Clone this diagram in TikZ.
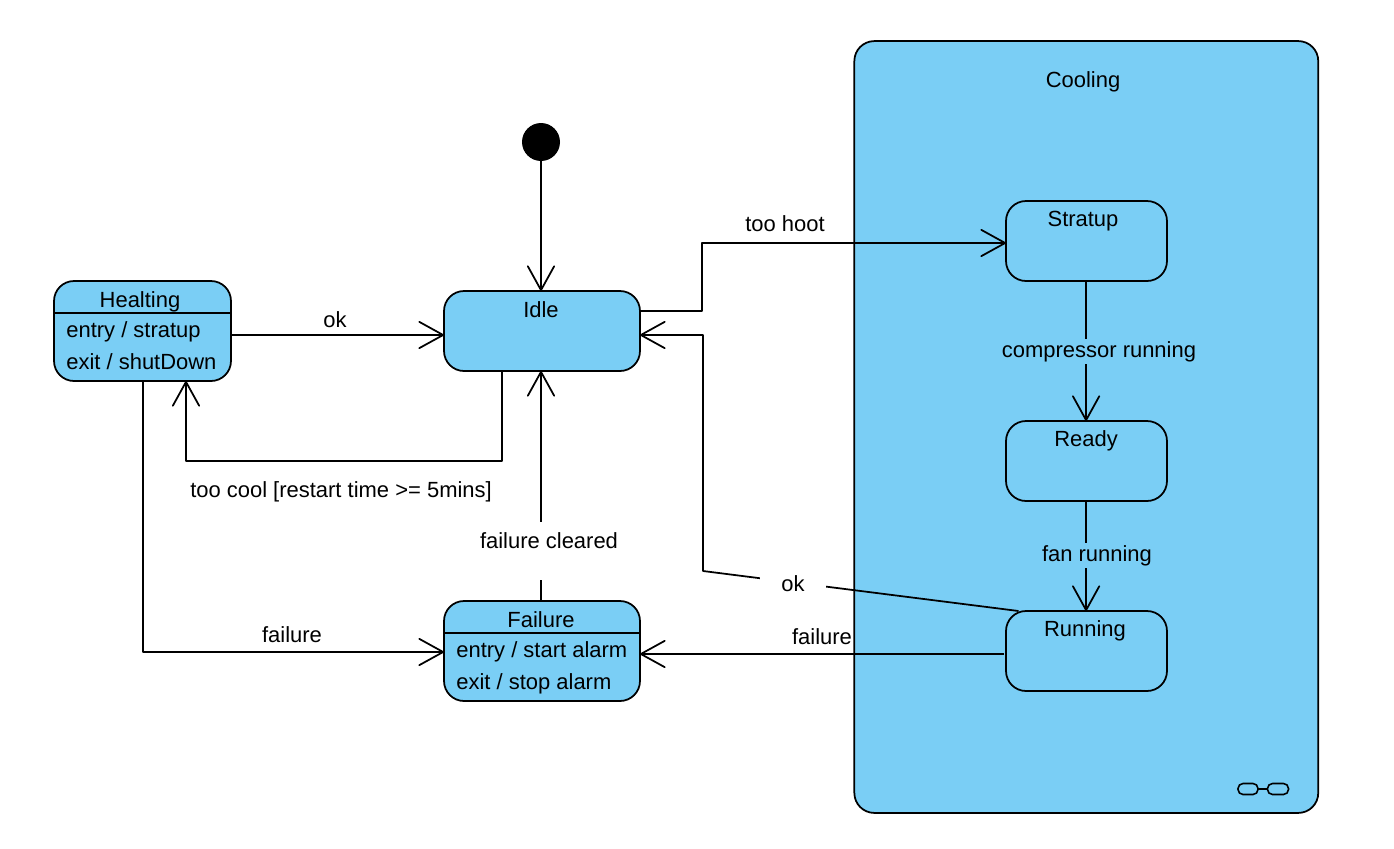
\documentclass[tikz,border=0pt]{standalone}
\usepackage{fontspec}
\setmainfont{Liberation Sans}
\usetikzlibrary{calc,arrows.meta}
\definecolor{statefill}{RGB}{122,206,245}
\tikzset{>={Straight Barb[length=13.6pt,width=15pt,round]}}
\tikzset{state/.style = {draw, fill=statefill, rounded corners=0.4cm, line width=1pt, outer sep=0pt, inner sep=0pt},
         edge/.style = {line width=1pt, line join=round},
         txt/.style = {anchor=base, inner sep=0pt, font=\fontsize{12.5}{14}\selectfont},
         lbl/.style = {anchor=base, inner sep=3pt, text depth=3pt, font=\fontsize{12.5}{14}\selectfont}}

\begin{document}
\begin{tikzpicture}[x=0.02cm,y=-0.02cm]
	\useasboundingbox (0,0) rectangle (1394,849);

	% composite state and its link icon
	\node [state, minimum width=9.28cm, minimum height=15.44cm] (cooling) at (1086.3,427) {};
	\node [txt] (coolingname) at (1083,87) {Cooling};
	\node [state, rounded corners=0.1cm, line width=0.9pt, minimum width=0.4cm, minimum height=0.22cm] (linka) at (1248,789) {};
	\node [state, rounded corners=0.1cm, line width=0.9pt, minimum width=0.42cm, minimum height=0.22cm] (linkb) at (1278,789) {};
	\draw [edge] (linka) -- (linkb);

	% states
	\node [state, minimum width=3.54cm, minimum height=2cm] (healting) at (142.5,331) {};
	\node [state, minimum width=3.92cm, minimum height=1.6cm] (idle) at (542,331) {};
	\node [state, minimum width=3.92cm, minimum height=2cm] (failure) at (542,651) {};
	\node [state, minimum width=3.22cm, minimum height=1.6cm] (stratup) at (1086.5,241) {};
	\node [state, minimum width=3.22cm, minimum height=1.6cm] (ready) at (1086.5,461) {};
	\node [state, minimum width=3.22cm, minimum height=1.6cm] (running) at (1086.5,651) {};
	\node [circle, fill=black, minimum size=0.76cm, inner sep=0pt, outer sep=0pt] (init) at (541,142) {};

	\draw [edge] ($(healting.west)+(0,-18)$) -- ($(healting.east)+(0,-18)$);
	\draw [edge] ($(failure.west)+(0,-18)$) -- ($(failure.east)+(0,-18)$);

	\node [txt] (healtingname) at (140,307) {Healting};
	\node [txt, anchor=base west] (healtingentry) at (66,337) {entry / stratup};
	\node [txt, anchor=base west] (healtingexit) at (66,369) {exit / shutDown};
	\node [txt] (idlename) at (541,317) {Idle};
	\node [txt] (failurename) at (541,627) {Failure};
	\node [txt, anchor=base west] (failureentry) at (456,657) {entry / start alarm};
	\node [txt, anchor=base west] (failureexit) at (456,689) {exit / stop alarm};
	\node [txt] (stratupname) at (1083,226) {Stratup};
	\node [txt] (readyname) at (1086,446) {Ready};
	\node [txt] (runningname) at (1085,636) {Running};

	% transitions
	\draw [edge, ->] (init) -- (init |- idle.north);
	\draw [edge, ->] ($(healting.east)+(0,4)$) -- ($(idle.west)+(0,4)$);
	\draw [edge, ->] ($(idle.south)+(-40,0)$) -- (502,461) -- (186,461) -- ($(healting.south)+(43.5,0)$);
	\draw [edge, ->] ($(healting.south)+(0.5,0)$) -- (143,652) -- ($(failure.west)+(0,1)$);
	\draw [edge, ->] (failure.north -| init) -- (idle.south -| init);
	\draw [edge, ->] ($(idle.east)+(0,-20)$) -- (702,311) -- (702,243) -- ($(stratup.west)+(0,2)$);
	\draw [edge, ->] ($(running.north)+(-68,0)$) -- (703,571) -- (703,335) -- ($(idle.east)+(0,4)$);
	\draw [edge, ->] ($(running.west)+(-2,3)$) -- ($(failure.east)+(0,3)$);
	\draw [edge, ->] ($(stratup.south)+(-0.4,0)$) -- ($(ready.north)+(-0.4,0)$);
	\draw [edge, ->] ($(ready.south)+(-0.4,0)$) -- ($(running.north)+(-0.4,0)$);

	% text on the transitions
	\node [txt] (toohoot) at (785,231) {too hoot};
	\node [txt] (okheat) at (335,327) {ok};
	\node [txt] (toocool) at (341,497) {too cool [restart time >= 5mins]};
	\node [txt] (failureheat) at (292,642) {failure};
	\node [txt] (failurerun) at (822,644) {failure};
	\node [lbl, fill=white, inner sep=0pt, text height=14.7pt, text depth=18pt] (cleared) at (549,548) {failure cleared};
	\node [lbl, fill=white, minimum width=1.32cm] (okrun) at (793,591) {ok};
	\node [lbl, fill=statefill, inner sep=1pt] (compressor) at (1099,357) {compressor running};
	\node [lbl, fill=statefill, inner sep=1pt] (fan) at (1097,561) {fan running};
\end{tikzpicture}
\end{document}
